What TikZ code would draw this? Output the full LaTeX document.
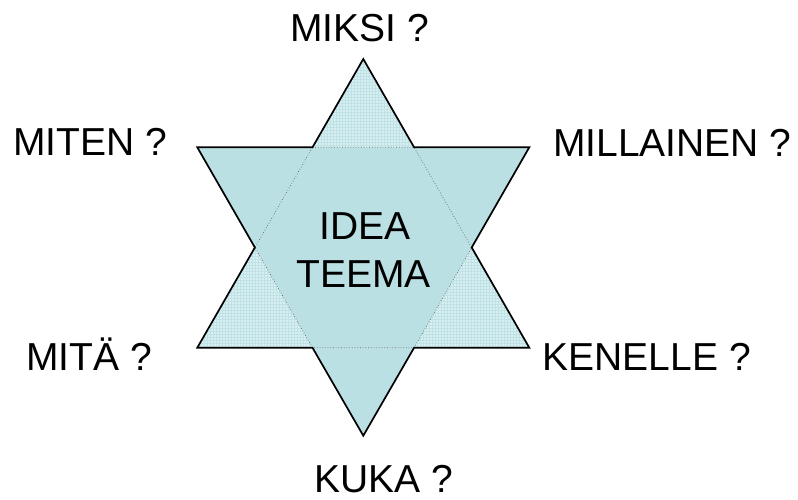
\documentclass[tikz,border=0pt]{standalone}
\usepackage{fontspec}
\setmainfont{Liberation Sans}
\usetikzlibrary{patterns}
\definecolor{starfill}{RGB}{187,224,227}
\definecolor{lightfill}{RGB}{216,238,240}
\definecolor{gridcol}{RGB}{190,226,229}
\begin{document}
\begin{tikzpicture}[x=1pt,y=-1pt,
  lbl/.style={inner sep=0pt, font=\fontsize{39}{46}\selectfont},
  outline/.style={draw=black, line width=1.7pt, line join=miter},
  inner/.style={draw=gray!80!black, line width=0.7pt, dotted}]
\useasboundingbox (0,0) rectangle (798,499);
% vertices
\coordinate (uA) at (363.3,59);
\coordinate (uL) at (197.3,347.7);
\coordinate (uR) at (529.3,347.7);
\coordinate (dA) at (363.3,435.7);
\coordinate (dL) at (197.3,147.3);
\coordinate (dR) at (529.3,147.3);
% hexagon
\coordinate (h1) at (312.5,147.3);
\coordinate (h2) at (414.1,147.3);
\coordinate (h3) at (471.7,247.5);
\coordinate (h4) at (414.1,347.7);
\coordinate (h5) at (312.5,347.7);
\coordinate (h6) at (254.9,247.5);
% fills
\fill[lightfill] (uA) -- (uR) -- (uL) -- cycle;
\fill[pattern=grid, pattern color=gridcol] (uA) -- (uR) -- (uL) -- cycle;
\fill[starfill] (dL) -- (dR) -- (dA) -- cycle;
% inner dotted edges
\draw[inner] (h1) -- (h2) -- (h3) -- (h4) -- (h5) -- (h6) -- cycle;
% outer outline
\draw[outline] (uA) -- (h2) -- (dR) -- (h3) -- (uR) -- (h4) -- (dA) -- (h5) -- (uL) -- (h6) -- (dL) -- (h1) -- cycle;
% labels
\node[lbl, anchor=base] (miksi) at (359.5,41) {MIKSI ?};
\node[lbl, anchor=base] (miten) at (90,155.7) {MITEN ?};
\node[lbl, anchor=base west] (millainen) at (553,156) {MILLAINEN ?};
\node[lbl, anchor=base] (mita) at (89.2,370.7) {MITÄ ?};
\node[lbl, anchor=base] (kenelle) at (646.7,370.7) {KENELLE ?};
\node[lbl, anchor=base west] (kuka) at (314,492) {KUKA ?};
\node[lbl, anchor=base] (idea) at (364.7,239.3) {IDEA};
\node[lbl, anchor=base] (teema) at (363.7,287.3) {TEEMA};
\end{tikzpicture}
\end{document}
